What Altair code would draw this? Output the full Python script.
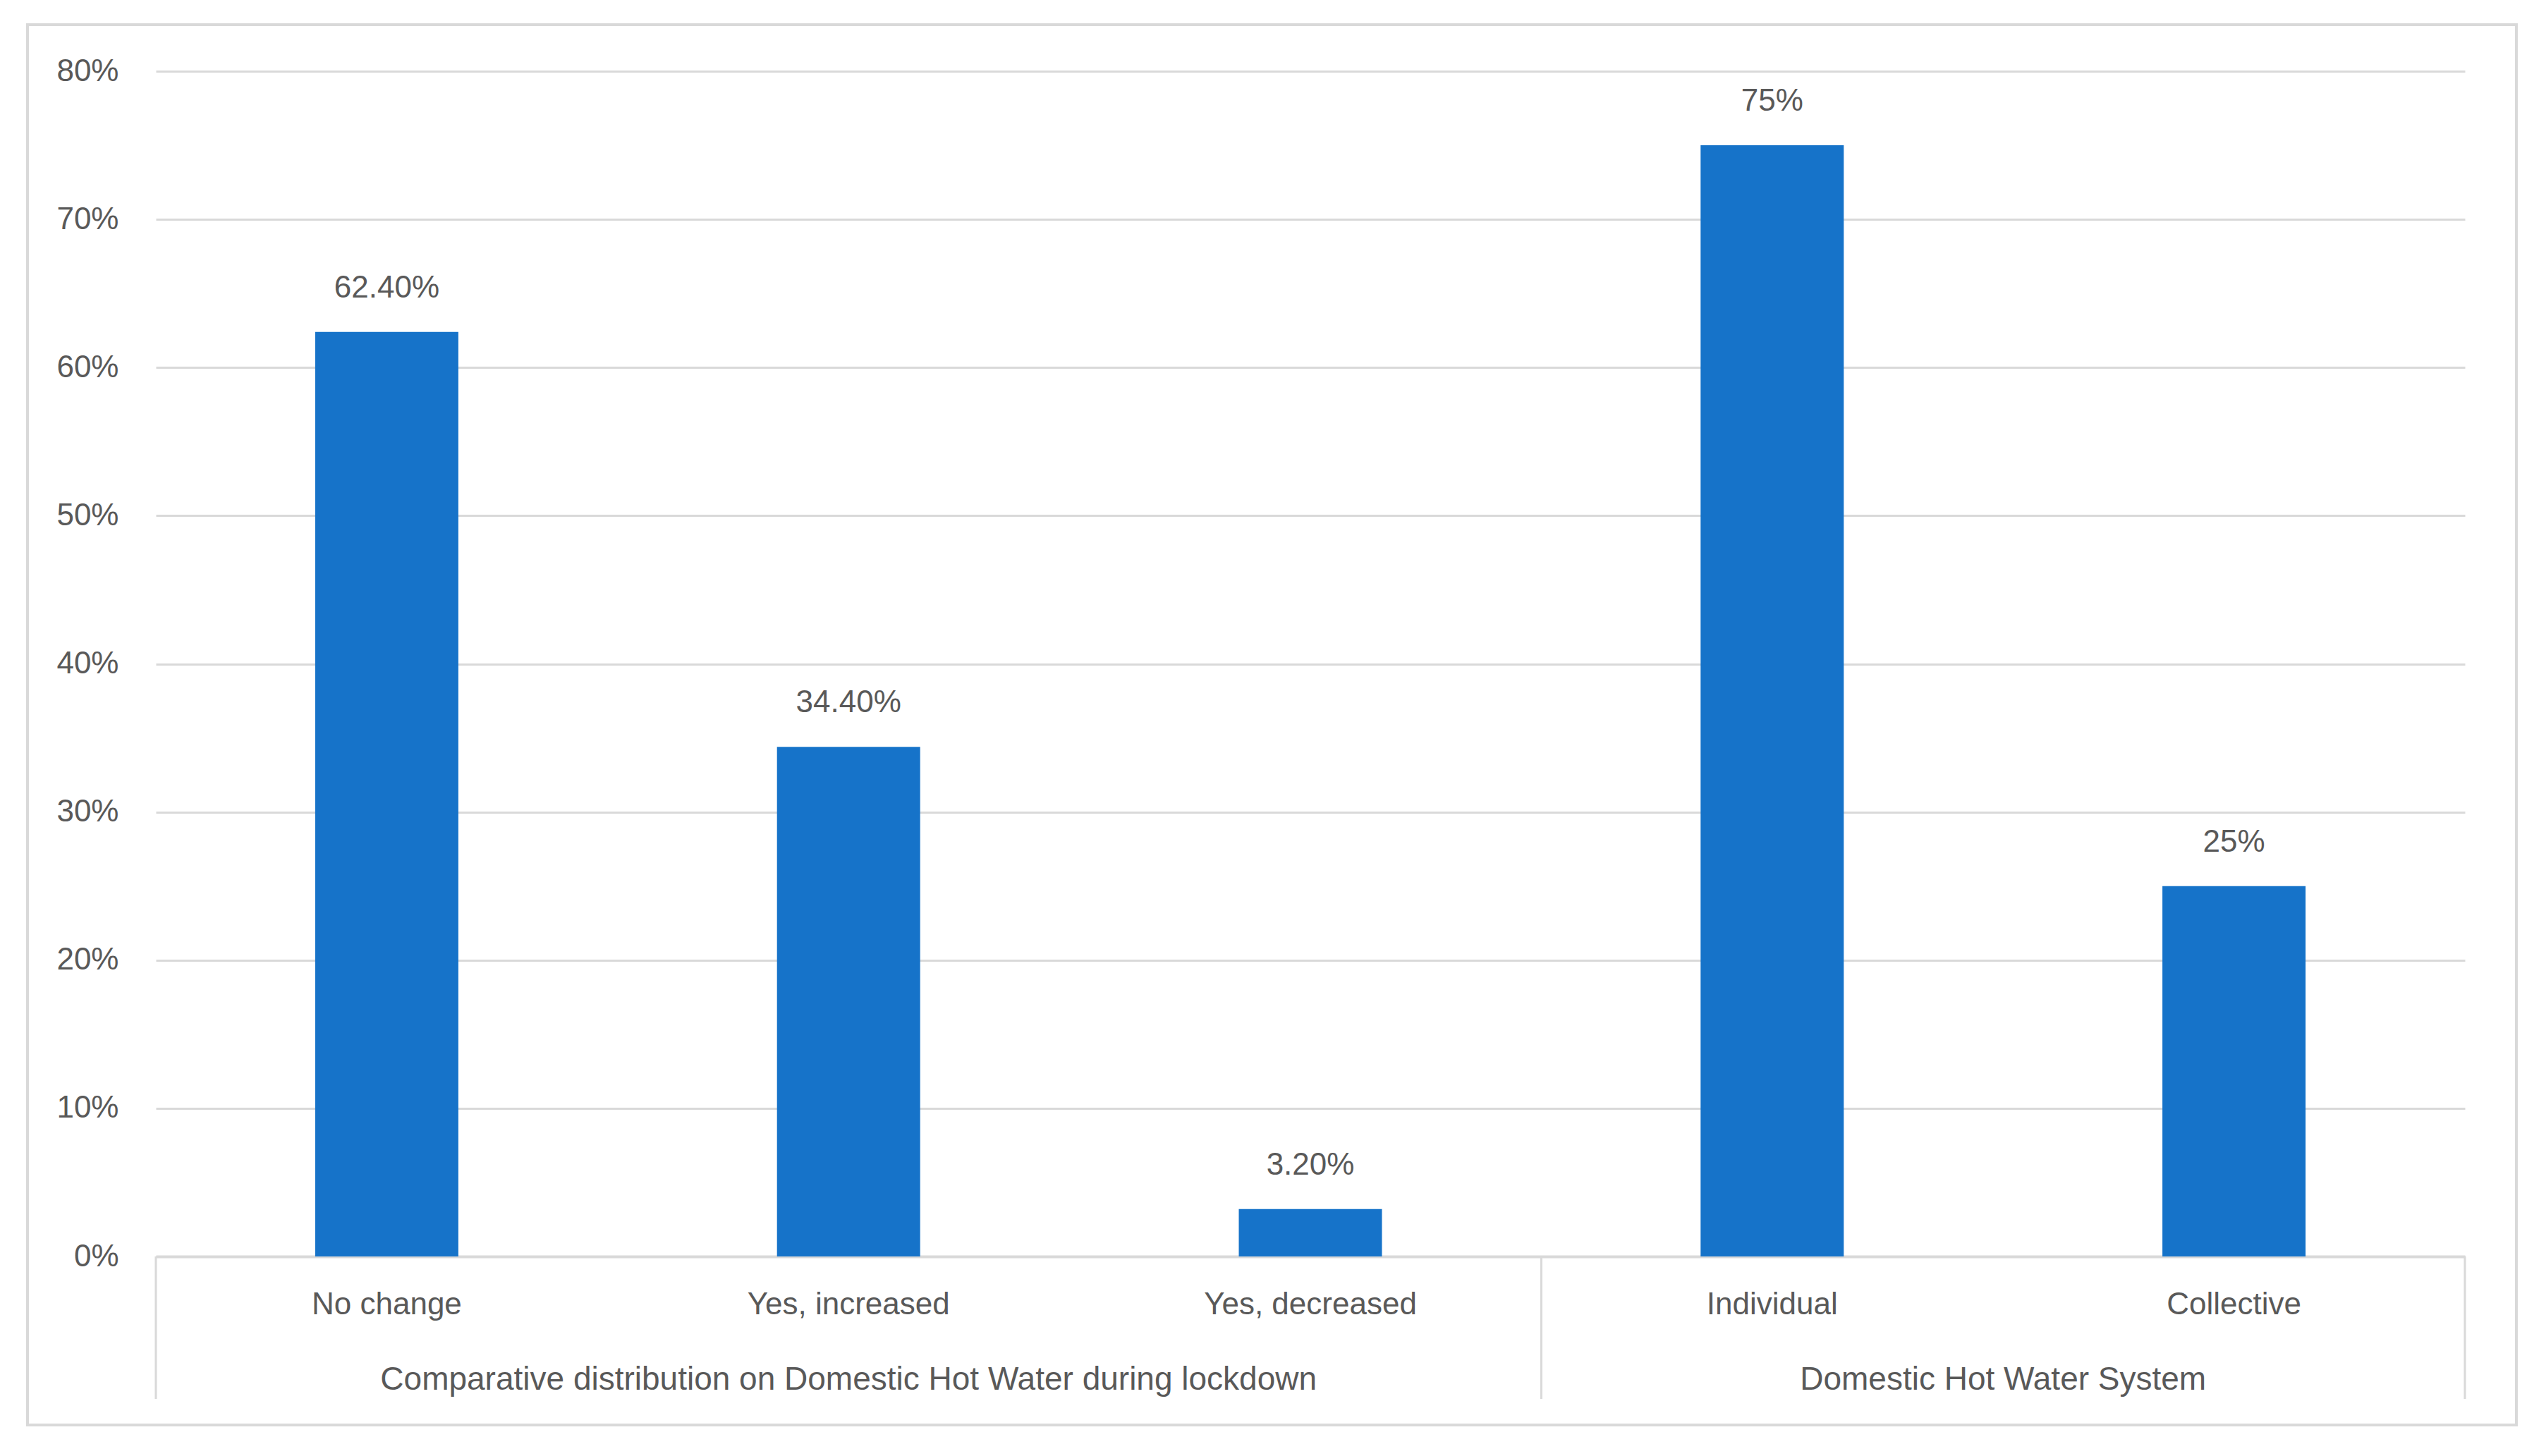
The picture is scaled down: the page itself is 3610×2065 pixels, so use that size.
import altair as alt
import pandas as pd

categories = ["No change", "Yes, increased", "Yes, decreased", "Individual", "Collective"]
values = [0.624, 0.344, 0.032, 0.75, 0.25]
value_labels = ["62.40%", "34.40%", "3.20%", "75%", "25%"]
group_names = ["Comparative distribution on Domestic Hot Water during lockdown",
               "Domestic Hot Water System"]
group_of = [group_names[0]] * 3 + [group_names[1]] * 2
y_ticks = [0, 0.1, 0.2, 0.3, 0.4, 0.5, 0.6, 0.7, 0.8]

df = pd.DataFrame({"category": categories, "value": values,
                   "label": value_labels, "group": group_of})

# group extents in band units, derived from the category/group lists
starts, counts, idx = [], [], 0
for g in group_names:
    c = group_of.count(g)
    starts.append(idx)
    counts.append(c)
    idx += c
gdf = pd.DataFrame({"group": group_names,
                    "center": [s + c / 2 for s, c in zip(starts, counts)]})
bdf = pd.DataFrame({"pos": [0] + [s + c for s, c in zip(starts, counts)]})

W, H = 3274, 1681
FONT = "Liberation Sans"
TXT = "#595959"
BLUE = "#1673C9"
GRID = "#D9D9D9"
FS = 44

band_scale = alt.Scale(paddingInner=0.69, paddingOuter=0.345)
y_scale = alt.Scale(domain=[0, 0.8])

y_axis = alt.Axis(title=None, values=y_ticks, format=".0%", ticks=False,
                  tickSize=0, domain=False, labelPadding=53,
                  labelFontSize=FS, labelColor=TXT, labelFont=FONT,
                  gridColor=GRID, gridWidth=3)

bars = alt.Chart(df).mark_bar(color=BLUE).encode(
    x=alt.X("category:N", sort=categories, scale=band_scale,
            axis=alt.Axis(title=None, labelAngle=0, ticks=False, tickSize=0,
                          labelPadding=46, labelFontSize=FS, labelColor=TXT,
                          labelFont=FONT, labelLimit=2000, domainColor=GRID,
                          domainWidth=4, grid=False)),
    y=alt.Y("value:Q", scale=y_scale, axis=y_axis),
)

texts = alt.Chart(df).mark_text(baseline="middle", dy=-62, fontSize=FS,
                                font=FONT, color=TXT).encode(
    x=alt.X("category:N", sort=categories, scale=band_scale, axis=None),
    y=alt.Y("value:Q", scale=y_scale, axis=y_axis),
    text="label:N",
)

pos_scale = alt.Scale(domain=[0, len(categories)])

seps = alt.Chart(bdf).mark_rule(color=GRID, strokeWidth=3).encode(
    x=alt.X("pos:Q", scale=pos_scale, axis=None),
    y=alt.value(H),
    y2=alt.value(H + 202),
)

glabels = alt.Chart(gdf).mark_text(baseline="middle", fontSize=46, font=FONT,
                                   color=TXT).encode(
    x=alt.X("center:Q", scale=pos_scale, axis=None),
    y=alt.value(H + 175),
    text="group:N",
)

frame = alt.Chart(pd.DataFrame({"f": [0]})).mark_rect(
    fillOpacity=0, stroke=GRID, strokeWidth=4).encode(
    x=alt.value(-182), x2=alt.value(3347),
    y=alt.value(-66), y2=alt.value(1920),
)

chart = alt.layer(frame, bars, texts, seps, glabels).resolve_scale(
    x="independent"
).properties(
    width=W, height=H,
    padding={"left": 213, "top": 93, "right": 100, "bottom": 260},
    autosize=alt.AutoSizeParams(type="none"),
    background="white",
).configure_view(strokeWidth=0)

chart.save("out.html", embed_options={"renderer": "svg", "actions": False})
